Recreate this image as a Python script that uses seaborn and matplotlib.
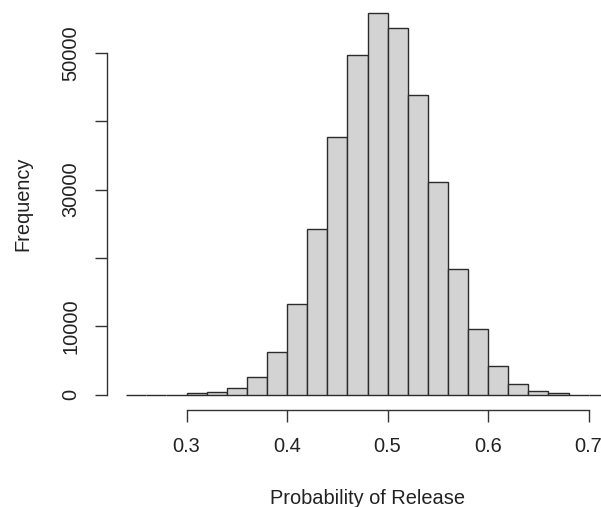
import matplotlib
matplotlib.use("Agg")
import matplotlib.pyplot as plt
import seaborn as sns
import numpy as np
import pandas as pd

# Data (bin width 0.02)
bin_edges = [0.24, 0.26, 0.28, 0.30, 0.32, 0.34, 0.36, 0.38, 0.40, 0.42, 0.44,
             0.46, 0.48, 0.50, 0.52, 0.54, 0.56, 0.58, 0.60, 0.62, 0.64, 0.66,
             0.68, 0.70, 0.72]
counts = [0, 0, 0, 220, 430, 980, 2630, 6240, 13320, 24240, 37670, 49630,
          55780, 53580, 43770, 31040, 18450, 9600, 4140, 1550, 590, 230, 0, 0]
x_ticks = [0.3, 0.4, 0.5, 0.6, 0.7]
x_tick_labels = ["0.3", "0.4", "0.5", "0.6", "0.7"]
y_ticks = [0, 10000, 20000, 30000, 40000, 50000]
y_tick_labels = ["0", "10000", "", "30000", "", "50000"]
x_label = "Probability of Release"
y_label = "Frequency"

centers = [(a + b) / 2 for a, b in zip(bin_edges[:-1], bin_edges[1:])]
df = pd.DataFrame({"p": centers, "n": counts})

sns.set_style("white")
plt.rcParams["font.family"] = ["Liberation Sans", "DejaVu Sans"]

W, H = 601, 507
fig = plt.figure(figsize=(W / 100, H / 100), dpi=100)
ax = fig.add_axes([107 / W, (H - 410) / H, (628 - 107) / W, (412) / H])

sns.histplot(data=df, x="p", weights="n", bins=bin_edges, ax=ax,
             color="#D3D3D3", edgecolor="#2b2b2b", linewidth=1.0,
             alpha=1, fill=True)

x0, x1 = bin_edges[0], bin_edges[-1]
xr = x1 - x0
ax.set_xlim(x0 - 0.04 * xr, x1 + 0.04 * xr)
ymax = max(counts)
ax.set_ylim(-0.04 * ymax, 1.04 * ymax)

for s in ["top", "right"]:
    ax.spines[s].set_visible(False)
ax.spines["left"].set_bounds(y_ticks[0], y_ticks[-1])
ax.spines["bottom"].set_bounds(x_ticks[0], x_ticks[-1])
for s in ["left", "bottom"]:
    ax.spines[s].set_color("#333333")
    ax.spines[s].set_linewidth(1.0)

txt = "#222222"
ax.set_xticks(x_ticks)
ax.set_xticklabels(x_tick_labels)
ax.set_yticks(y_ticks)
ax.set_yticklabels(y_tick_labels, rotation=90, va="center")
ax.tick_params(axis="both", direction="out", length=8.3, width=1.0,
               color="#333333", labelsize=14.4, labelcolor=txt)
ax.tick_params(axis="x", pad=11)
ax.tick_params(axis="y", pad=11)
ax.tick_params(left=True, bottom=True)

ax.set_xlabel(x_label, fontsize=14.4, color=txt, labelpad=24)
ax.set_ylabel(y_label, fontsize=14.4, color=txt, labelpad=21)

fig.savefig("out.png", dpi=100)
